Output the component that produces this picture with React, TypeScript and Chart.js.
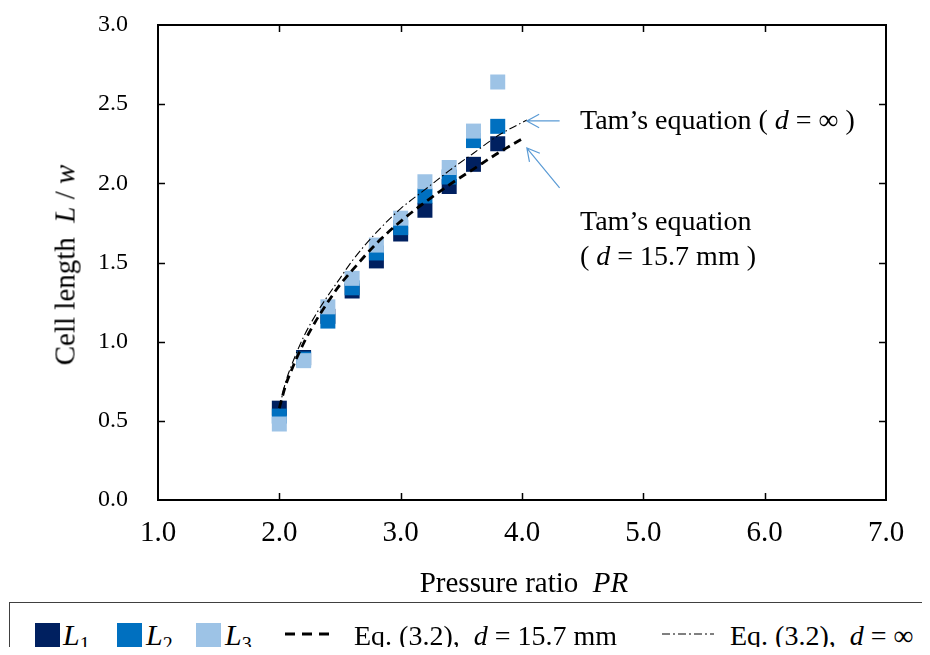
import React, { useEffect, useRef } from "react";
import { Chart, registerables } from "chart.js";

Chart.register(...registerables);

// ---- data ----
const PR = [2.0, 2.2, 2.4, 2.6, 2.8, 3.0, 3.2, 3.4, 3.6, 3.8];
const L1 = [0.58, 0.9, 1.16, 1.32, 1.51, 1.68, 1.83, 1.98, 2.12, 2.25];
const L2 = [0.53, 0.89, 1.13, 1.34, 1.56, 1.72, 1.92, 2.04, 2.27, 2.36];
const L3 = [0.48, 0.88, 1.22, 1.4, 1.61, 1.78, 2.01, 2.1, 2.33, 2.64];

const EQ_D157_X = [2.0, 2.05, 2.1, 2.2, 2.3, 2.4, 2.5, 2.6, 2.8, 3.0, 3.2, 3.4, 3.6, 3.8, 4.0];
const EQ_D157_Y = [0.58, 0.72, 0.82, 0.99, 1.13, 1.25, 1.36, 1.45, 1.62, 1.76, 1.88, 1.99, 2.09, 2.19, 2.28];
const EQ_INF_X = [2.0, 2.05, 2.1, 2.2, 2.3, 2.4, 2.5, 2.6, 2.8, 3.0, 3.2, 3.4, 3.6, 3.8, 4.04];
const EQ_INF_Y = [0.58, 0.74, 0.85, 1.03, 1.17, 1.29, 1.4, 1.51, 1.69, 1.84, 1.96, 2.08, 2.19, 2.3, 2.4];

const X_TICKS = [1, 2, 3, 4, 5, 6, 7];
const Y_TICKS = [0, 0.5, 1, 1.5, 2, 2.5, 3];

// annotation arrows (data coordinates: tail -> tip)
const ARROW_TAILS = [[4.31, 2.394], [4.31, 1.971]];
const ARROW_TIPS = [[4.04, 2.394], [4.04, 2.223]];

const SERIF = "'Liberation Serif', 'Times New Roman', serif";
const C1 = "#002060";
const C2 = "#0070C0";
const C3 = "#9DC3E6";
const ARROW_C = "#5B9BD5";

const pts = (xs: number[], ys: number[]) => xs.map((x, i) => ({ x, y: ys[i] }));

const framePlugin = {
  id: "frame",
  afterDraw(chart: any) {
    const { ctx, chartArea: a, scales } = chart;
    const x = scales.x;
    const y = scales.y;
    const tl = 7;
    ctx.save();
    ctx.strokeStyle = "#000";
    ctx.lineWidth = 1.5;
    ctx.beginPath();
    for (const v of X_TICKS) {
      if (v === x.min || v === x.max) continue;
      const px = Math.round(x.getPixelForValue(v)) + 0.5;
      ctx.moveTo(px, a.bottom);
      ctx.lineTo(px, a.bottom - tl);
      ctx.moveTo(px, a.top);
      ctx.lineTo(px, a.top + tl);
    }
    for (const v of Y_TICKS) {
      if (v === y.min || v === y.max) continue;
      const py = Math.round(y.getPixelForValue(v)) + 0.5;
      ctx.moveTo(a.left, py);
      ctx.lineTo(a.left + tl, py);
      ctx.moveTo(a.right, py);
      ctx.lineTo(a.right - tl, py);
    }
    ctx.stroke();
    ctx.lineWidth = 2;
    ctx.strokeRect(a.left, a.top, a.right - a.left, a.bottom - a.top);

    // arrows
    ctx.strokeStyle = ARROW_C;
    ctx.lineWidth = 1.2;
    for (let i = 0; i < ARROW_TAILS.length; i++) {
      const x0 = x.getPixelForValue(ARROW_TAILS[i][0]);
      const y0 = y.getPixelForValue(ARROW_TAILS[i][1]);
      const x1 = x.getPixelForValue(ARROW_TIPS[i][0]);
      const y1 = y.getPixelForValue(ARROW_TIPS[i][1]);
      const ang = Math.atan2(y1 - y0, x1 - x0);
      const hl = 14;
      const spread = 0.5;
      ctx.beginPath();
      ctx.moveTo(x0, y0);
      ctx.lineTo(x1, y1);
      ctx.moveTo(x1 - hl * Math.cos(ang - spread), y1 - hl * Math.sin(ang - spread));
      ctx.lineTo(x1, y1);
      ctx.lineTo(x1 - hl * Math.cos(ang + spread), y1 - hl * Math.sin(ang + spread));
      ctx.stroke();
    }
    ctx.restore();
  },
};

export default function App() {
  const ref = useRef<HTMLCanvasElement | null>(null);

  useEffect(() => {
    const canvas = ref.current;
    if (!canvas) return;
    const square = (label: string, ys: number[], color: string, order: number) => ({
      type: "scatter" as const,
      label,
      data: pts(PR, ys),
      pointStyle: "rect",
      pointRadius: 10.6,
      pointBackgroundColor: color,
      pointBorderColor: color,
      pointBorderWidth: 0,
      showLine: false,
      order,
    });
    const chart = new Chart(canvas, {
      type: "scatter",
      data: {
        datasets: [
          square("L1", L1, C1, 5),
          square("L2", L2, C2, 4),
          square("L3", L3, C3, 3),
          {
            type: "line",
            label: "Eq. (3.2), d = 15.7 mm",
            data: pts(EQ_D157_X, EQ_D157_Y),
            borderColor: "#000",
            borderWidth: 2.8,
            borderDash: [8, 5],
            pointRadius: 0,
            fill: false,
            showLine: true,
            cubicInterpolationMode: "monotone",
            order: 2,
          } as any,
          {
            type: "line",
            label: "Eq. (3.2), d = ∞",
            data: pts(EQ_INF_X, EQ_INF_Y),
            borderColor: "#000",
            borderWidth: 1.1,
            borderDash: [8, 3, 1.5, 3],
            pointRadius: 0,
            fill: false,
            showLine: true,
            cubicInterpolationMode: "monotone",
            order: 1,
          } as any,
        ],
      },
      options: {
        responsive: false,
        animation: false,
        layout: { padding: { left: 0, right: 36, top: 17, bottom: 0 } },
        plugins: { legend: { display: false }, tooltip: { enabled: false } },
        scales: {
          x: {
            type: "linear",
            min: 1,
            max: 7,
            afterFit: (s: any) => {
              s.height = 98;
              s.paddingLeft = 0;
              s.paddingRight = 0;
            },
            afterBuildTicks: (s: any) => {
              s.ticks = X_TICKS.map((v) => ({ value: v }));
            },
            grid: { display: false, drawTicks: false },
            border: { display: false },
            ticks: {
              padding: 16,
              color: "#000",
              font: { family: SERIF, size: 29 },
              callback: (v: any) => Number(v).toFixed(1),
            },
          },
          y: {
            type: "linear",
            min: 0,
            max: 3,
            afterFit: (s: any) => {
              s.width = 150;
              s.paddingTop = 0;
              s.paddingBottom = 0;
            },
            afterBuildTicks: (s: any) => {
              s.ticks = Y_TICKS.map((v) => ({ value: v }));
            },
            grid: { display: false, drawTicks: false },
            border: { display: false },
            ticks: {
              padding: 30,
              color: "#000",
              font: { family: SERIF, size: 24 },
              callback: (v: any) => Number(v).toFixed(1),
            },
          },
        },
      } as any,
      plugins: [framePlugin],
    });
    return () => chart.destroy();
  }, []);

  const abs = (o: React.CSSProperties): React.CSSProperties => ({
    position: "absolute",
    fontFamily: SERIF,
    color: "#000",
    whiteSpace: "pre",
    lineHeight: 1,
    ...o,
  });

  const sub = (t: string) => (
    <span style={{ fontStyle: "normal", fontSize: 20, position: "relative", top: 6 }}>{t}</span>
  );

  return (
    <div style={{ position: "relative", width: 914, height: 647, marginBottom: -8 }}>
      <canvas ref={ref} width={914} height={590} style={{ display: "block", width: 914, height: 590 }} />

      {/* axis titles */}
      <div
        style={abs({
          left: 57,
          top: 257,
          fontSize: 29,
          transform: "translate(-50%, -50%) rotate(-90deg)",
        })}
      >
        Cell length  <i>L</i> / <i>w</i>
      </div>
      <div style={abs({ left: 516, top: 560, fontSize: 29, transform: "translateX(-50%)" })}>
        Pressure ratio  <i>PR</i>
      </div>

      {/* annotations */}
      <div style={abs({ left: 572, top: 98, fontSize: 28 })}>
        Tam’s equation ( <i>d</i> = ∞ )
      </div>
      <div style={abs({ left: 572, top: 199, fontSize: 28 })}>Tam’s equation</div>
      <div style={abs({ left: 572, top: 234, fontSize: 28 })}>
        ( <i>d</i> = 15.7 mm )
      </div>

      {/* legend */}
      <div
        style={{
          position: "absolute",
          left: 1,
          top: 594,
          width: 917,
          height: 53,
          borderTop: "1.5px solid #404040",
          borderLeft: "1.5px solid #404040",
          borderRight: "1.5px solid #404040",
          boxSizing: "border-box",
        }}
      />
      <div style={{ position: "absolute", left: 27, top: 615, width: 25, height: 24, background: C1 }} />
      <div style={abs({ left: 55, top: 612, fontSize: 30 })}>
        <i>L</i>
        {sub("1")}
      </div>
      <div style={{ position: "absolute", left: 109, top: 615, width: 25, height: 24, background: C2 }} />
      <div style={abs({ left: 138, top: 612, fontSize: 30 })}>
        <i>L</i>
        {sub("2")}
      </div>
      <div style={{ position: "absolute", left: 188, top: 615, width: 25, height: 24, background: C3 }} />
      <div style={abs({ left: 217, top: 612, fontSize: 30 })}>
        <i>L</i>
        {sub("3")}
      </div>
      <svg style={{ position: "absolute", left: 277, top: 621 }} width={48} height={10}>
        <line x1={0} y1={5} x2={48} y2={5} stroke="#000" strokeWidth={3} strokeDasharray="10 7" />
      </svg>
      <div style={abs({ left: 346, top: 614, fontSize: 28 })}>
        Eq. (3.2),  <i>d</i> = 15.7 mm
      </div>
      <svg style={{ position: "absolute", left: 654, top: 621 }} width={52} height={10}>
        <line x1={0} y1={5} x2={52} y2={5} stroke="#000" strokeWidth={1} strokeDasharray="8 3 2 3" />
      </svg>
      <div style={abs({ left: 722, top: 614, fontSize: 28 })}>
        Eq. (3.2),  <i>d</i> = ∞
      </div>
    </div>
  );
}
